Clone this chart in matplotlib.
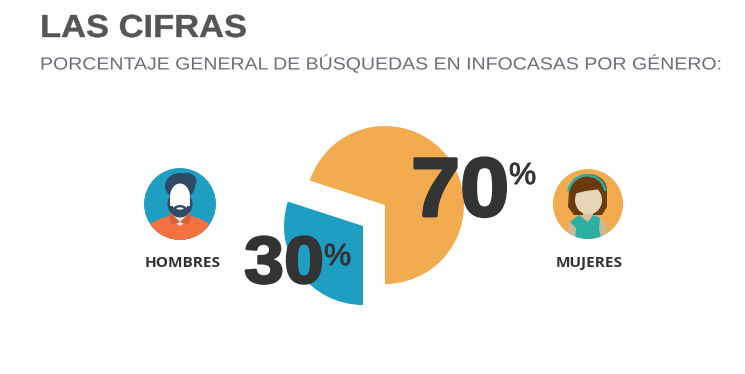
import matplotlib
matplotlib.use('Agg')
import matplotlib.pyplot as plt
import matplotlib.patheffects as pe
from matplotlib.patches import Circle, Ellipse, Polygon, Wedge
from matplotlib.transforms import Affine2D

generos = ['MUJERES', 'HOMBRES']
porcentajes = [70, 30]
colores = ['#F2AB4E', '#1E9FC2']
titulo = 'LAS CIFRAS'
subtitulo = 'PORCENTAJE GENERAL DE BÚSQUEDAS EN INFOCASAS POR GÉNERO:'

H = 374
OSCURO = '#333333'
PELO_H = '#2E4A66'
PELO_M = '#6B3A0E'
TEAL = '#2BAFA2'


def Y(y):
    # coordenadas tipo pantalla, con y hacia abajo
    return H - y


class Estirar(pe.AbstractPathEffect):
    # el original tiene letras mas anchas/espaciadas que las fuentes instaladas
    def __init__(self, k, x0, borde=0):
        super().__init__()
        self.k, self.x0, self.borde = k, x0, borde

    def draw_path(self, renderer, gc, tpath, affine, rgbFace=None):
        t = affine + Affine2D().translate(-self.x0, 0).scale(self.k, 1).translate(self.x0, 0)
        gc0 = renderer.new_gc()
        gc0.copy_properties(gc)
        if self.borde:
            gc0.set_linewidth(self.borde)
            gc0.set_foreground(rgbFace)
        renderer.draw_path(gc0, tpath, t, rgbFace)
        gc0.restore()


def texto(ax, x, y, s, size, color, k=1.0, borde=0, weight='bold', family='Liberation Sans'):
    ax.text(x, Y(y), s, fontsize=size, fontweight=weight, color=color, family=family,
            va='baseline', zorder=6, path_effects=[Estirar(k, x, borde)])


def poly(ax, pts, color, z=3, clip=None):
    p = Polygon([(x, Y(y)) for x, y in pts], closed=True, color=color, lw=0, zorder=z)
    ax.add_patch(p)
    if clip is not None:
        p.set_clip_path(clip)
    return p


def ell(ax, cx, cy, w, h, color, z=3, clip=None):
    e = Ellipse((cx, Y(cy)), w, h, color=color, lw=0, zorder=z)
    ax.add_patch(e)
    if clip is not None:
        e.set_clip_path(clip)
    return e


fig = plt.figure(figsize=(7.45, 3.74), dpi=100)
ax = fig.add_axes([0, 0, 1, 1])

# pie
wedges, _ = ax.pie(porcentajes, colors=colores, startangle=270, radius=79,
                   center=(385, Y(205)), wedgeprops={'lw': 0})
wedges[1].set_center((363, Y(226)))

ax.set_xlim(0, 745)
ax.set_ylim(0, H)
ax.set_aspect('auto')
ax.axis('off')

# textos
texto(ax, 40, 37, titulo, 23, '#555555', k=1.08, borde=0.3)
texto(ax, 40, 69.5, subtitulo, 12.6, '#6b7078', k=1.115, weight='normal')

texto(ax, 411, 216, f'{porcentajes[0]}', 60, OSCURO, k=1.06, borde=2)
texto(ax, 509, 184, '%', 22, OSCURO, k=1.0, borde=0.7, weight='normal')
texto(ax, 244, 283, f'{porcentajes[1]}', 48, OSCURO, k=1.08, borde=1.6)
texto(ax, 324, 265, '%', 22, OSCURO, k=1.0, borde=0.7, weight='normal')

ax.text(183, Y(267), generos[1], fontsize=11.1, fontweight='bold', color=OSCURO,
        family='Open Sans', ha='center', va='baseline')
ax.text(589, Y(267), generos[0], fontsize=11.1, fontweight='bold', color=OSCURO,
        family='Open Sans', ha='center', va='baseline')

# avatar hombre
cx, cy = 180, 204
fondo = Circle((cx, Y(cy)), 36, color=colores[1], lw=0, zorder=2)
ax.add_patch(fondo)
ell(ax, cx, 246, 84, 62, '#F47240', 3, fondo)
poly(ax, [(170, 210), (190, 210), (190, 219), (180, 226), (170, 219)], '#F8F2EA', 4)
poly(ax, [(170, 212), (180, 222), (176, 224), (171, 224), (169, 218)], '#D8603A', 5)
poly(ax, [(190, 212), (180, 222), (184, 224), (189, 224), (191, 218)], '#D8603A', 5)
ell(ax, cx, 186, 30, 26, PELO_H, 4)
ell(ax, 187, 181, 19, 16, PELO_H, 4)
ell(ax, cx, 204, 25, 27, PELO_H, 4)
ell(ax, cx, 197, 20, 27, 'white', 5)
poly(ax, [(170, 196), (190, 196), (190, 206), (170, 206)], 'white', 5)
ell(ax, cx, 209, 13, 8, PELO_H, 6)
ell(ax, cx, 208.5, 7, 2.2, 'white', 7)

# avatar mujer
cx, cy = 588, 204
fondo = Circle((cx, Y(cy)), 35, color=colores[0], lw=0, zorder=2)
ax.add_patch(fondo)
ell(ax, cx, 190, 38, 32, PELO_M, 3)
poly(ax, [(569, 190), (607, 190), (607, 207), (602, 215), (574, 215), (568, 207)], PELO_M, 3)
poly(ax, [(567, 240), (569, 224), (578, 216), (599, 216), (606, 224), (608, 240)], '#CDB995', 4, fondo)
poly(ax, [(583, 208), (593, 208), (593, 222), (583, 222)], '#D9BFA0', 4)
poly(ax, [(579, 215), (588, 222), (593, 215), (600, 218), (599, 230), (602, 240), (575, 240),
          (576, 228), (570, 222)], TEAL, 5, fondo)
ell(ax, 588.5, 200, 27, 29, '#E6D6B8', 5)
poly(ax, [(573, 194), (576, 185), (588, 180), (600, 182), (604, 189), (601, 189), (586, 191)], PELO_M, 6)
ax.add_patch(Wedge((587, Y(194)), 20, 10, 172, width=2.6, color=TEAL, lw=0, zorder=7))

fig.savefig('out.png', dpi=100, facecolor='white')
